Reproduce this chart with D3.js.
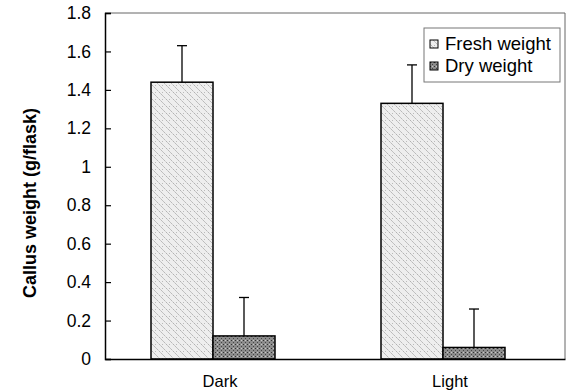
<!DOCTYPE html>
<html>
<head>
<meta charset="utf-8">
<script src="https://cdn.jsdelivr.net/npm/d3@7"></script>
<style>
  body { margin: 0; background: #fff; }
  text { font-family: "Liberation Sans", Arial, sans-serif; }
</style>
</head>
<body>
<div id="chart"></div>
<script>
const width = 568;
const height = 392;

// data
const categories = ["Dark", "Light"];
const seriesNames = ["Fresh weight", "Dry weight"];
const freshValues = [1.44, 1.33];
const freshErrors = [0.19, 0.2];
const dryValues = [0.12, 0.06];
const dryErrors = [0.2, 0.2];
const yTicks = [0, 0.2, 0.4, 0.6, 0.8, 1, 1.2, 1.4, 1.6, 1.8];

const margin = {top: 13, right: 3, bottom: 33, left: 105};

const svg = d3.select("#chart").append("svg")
    .attr("width", width)
    .attr("height", height);

const defs = svg.append("defs");

// light hatched fill for fresh weight
const pf = defs.append("pattern")
    .attr("id", "fresh")
    .attr("patternUnits", "userSpaceOnUse")
    .attr("width", 7).attr("height", 7);
pf.append("rect").attr("width", 7).attr("height", 7).attr("fill", "#eeeeee");
pf.append("path").attr("d", "M-1,-1 L8,8 M-1,6 L1,8 M6,-1 L8,1")
    .attr("stroke", "#8a8a8a").attr("stroke-width", 0.7)
    .attr("stroke-dasharray", "2,1");
pf.append("rect").attr("x", 4).attr("y", 1).attr("width", 1).attr("height", 1).attr("fill", "#bbb");

// dark stippled fill for dry weight
const pd = defs.append("pattern")
    .attr("id", "dry")
    .attr("patternUnits", "userSpaceOnUse")
    .attr("width", 4).attr("height", 4);
pd.append("rect").attr("width", 4).attr("height", 4).attr("fill", "#8c8c8c");
pd.append("rect").attr("x", 0).attr("y", 0).attr("width", 1).attr("height", 1).attr("fill", "#333");
pd.append("rect").attr("x", 2).attr("y", 2).attr("width", 1).attr("height", 1).attr("fill", "#444");
pd.append("rect").attr("x", 2).attr("y", 0).attr("width", 1).attr("height", 1).attr("fill", "#c8c8c8");

const x0 = d3.scaleBand()
    .domain(categories)
    .range([margin.left, width - margin.right]);

const x1 = d3.scaleBand()
    .domain(seriesNames)
    .range([0, 124]);

const y = d3.scaleLinear()
    .domain([0, 1.8])
    .range([height - margin.bottom, margin.top]);

const rows = categories.map((c, i) => ({
  cat: c,
  bars: [
    {name: seriesNames[0], value: freshValues[i], err: freshErrors[i], fill: "url(#fresh)"},
    {name: seriesNames[1], value: dryValues[i], err: dryErrors[i], fill: "url(#dry)"}
  ]
}));

// frame top / right
svg.append("path")
    .attr("d", `M${margin.left},${y(1.8)} H${width - margin.right} V${y(0)}`)
    .attr("fill", "none")
    .attr("stroke", "#666")
    .attr("stroke-width", 1);

const groups = svg.append("g")
  .selectAll("g")
  .data(rows)
  .join("g")
    .attr("transform", d => `translate(${x0(d.cat) + (x0.bandwidth() - 124) / 2 - 7},0)`);

// error bars (upper only)
groups.selectAll("g.err")
  .data(d => d.bars)
  .join("g")
    .attr("class", "err")
    .each(function(d) {
      const g = d3.select(this);
      const cx = x1(d.name) + x1.bandwidth() / 2;
      g.append("line")
          .attr("x1", cx).attr("x2", cx)
          .attr("y1", y(d.value)).attr("y2", y(d.value + d.err))
          .attr("stroke", "#000").attr("stroke-width", 1.3);
      g.append("line")
          .attr("x1", cx - 5).attr("x2", cx + 5)
          .attr("y1", y(d.value + d.err)).attr("y2", y(d.value + d.err))
          .attr("stroke", "#000").attr("stroke-width", 1.3);
    });

groups.selectAll("rect")
  .data(d => d.bars)
  .join("rect")
    .attr("x", d => x1(d.name))
    .attr("width", x1.bandwidth())
    .attr("y", d => y(d.value))
    .attr("height", d => y(0) - y(d.value))
    .attr("fill", d => d.fill)
    .attr("stroke", "#000")
    .attr("stroke-width", 1.5);

// y axis, ticks pointing inward
const yAxis = svg.append("g")
    .attr("transform", `translate(${margin.left},0)`)
    .call(d3.axisLeft(y).tickValues(yTicks).tickSize(-6).tickPadding(14).tickFormat(d => d3.format("")(d)));
yAxis.select(".domain").attr("stroke", "#000").attr("stroke-width", 1.5);
yAxis.selectAll(".tick line").attr("stroke", "#000").attr("stroke-width", 1.2);
yAxis.selectAll(".tick text")
    .style("font-size", "17.5px")
    .attr("fill", "#000");

// x axis
const xAxis = svg.append("g")
    .attr("transform", `translate(0,${y(0)})`)
    .call(d3.axisBottom(x0).tickSize(0).tickPadding(16));
xAxis.select(".domain").attr("stroke", "#000").attr("stroke-width", 1.5);
xAxis.selectAll(".tick text")
    .style("font-size", "16.5px")
    .attr("fill", "#000");

// y title
svg.append("text")
    .attr("transform", `translate(36,${(y(0) + y(1.8)) / 2 + 17}) rotate(-90)`)
    .attr("text-anchor", "middle")
    .attr("font-size", 18)
    .attr("font-weight", "bold")
    .text("Callus weight (g/flask)");

// legend
const legend = svg.append("g").attr("transform", "translate(424,28)");
legend.append("rect")
    .attr("width", 136).attr("height", 54)
    .attr("fill", "#fff")
    .attr("stroke", "#777").attr("stroke-width", 1);
const li = legend.selectAll("g")
  .data(seriesNames)
  .join("g")
    .attr("transform", (d, i) => `translate(6,${16 + i * 22})`);
li.append("rect")
    .attr("x", 0).attr("y", -4)
    .attr("width", 8).attr("height", 8)
    .attr("fill", (d, i) => i === 0 ? "url(#fresh)" : "url(#dry)")
    .attr("stroke", "#000").attr("stroke-width", 1);
li.append("text")
    .attr("x", 15).attr("y", 6)
    .attr("font-size", 18.5)
    .text(d => d);
</script>
</body>
</html>
